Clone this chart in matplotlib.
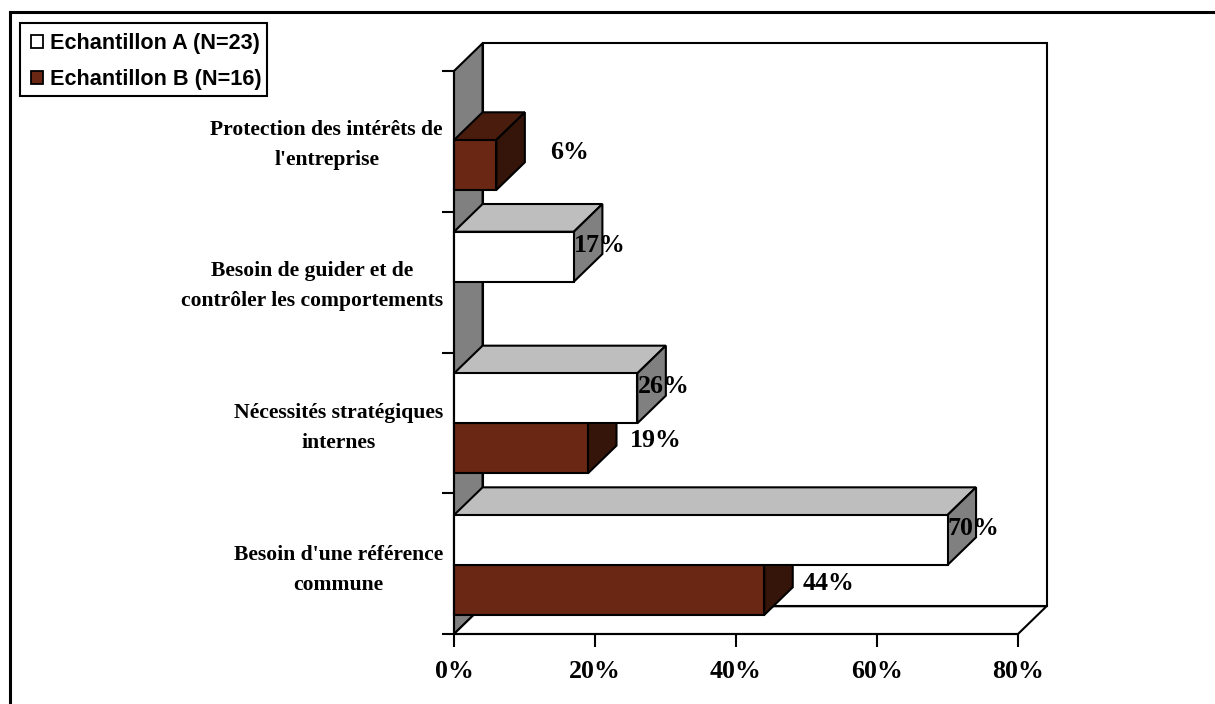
import matplotlib
matplotlib.use("Agg")
import matplotlib.pyplot as plt
from matplotlib.lines import Line2D
from matplotlib.patches import Polygon, Rectangle

categories = ["Besoin d'une référence\ncommune", "Nécessités stratégiques\ninternes",
              "Besoin de guider et de\ncontrôler les comportements", "Protection des intérêts de\nl'entreprise"]
echantillon_a = [70, 26, 17, 0]
echantillon_b = [44, 19, 0, 6]
series_names = ["Echantillon A (N=23)", "Echantillon B (N=16)"]
xticks = [0, 20, 40, 60, 80]

W, H = 1215, 704
DX, DY = 4.05, 0.197  # profondeur de l'effet 3D
BAR_H = 0.355
STEP = 1.0065  # les barres montent un peu plus vite que les graduations
SERIF = "Liberation Serif"
SANS = "Liberation Sans"

fig = plt.figure(figsize=(W / 100, H / 100), dpi=100)
# cadre exterieur : seulement gauche et haut
fig.add_artist(Line2D([9.5 / W, 9.5 / W], [0, 1 - 11.5 / H], transform=fig.transFigure, color="black", lw=2.2,
                      solid_capstyle="projecting"))
fig.add_artist(Line2D([9.5 / W, 1], [1 - 11.5 / H, 1 - 11.5 / H], transform=fig.transFigure, color="black", lw=2.2,
                      solid_capstyle="projecting"))

ax = fig.add_axes([454 / W, (H - 634) / H, 564 / W, 563 / H])
ax.set_xlim(0, 80)
ax.set_ylim(0, 4)


def poly(pts, color, z=2):
    ax.add_patch(Polygon(pts, closed=True, fc=color, ec="black", lw=1.5, clip_on=False, zorder=z, joinstyle="miter"))


def bar3d(y, val, front, top, side, z):
    poly([(0, y + BAR_H), (DX, y + BAR_H + DY), (val + DX, y + BAR_H + DY), (val, y + BAR_H)], top, z)
    poly([(val, y), (val + DX, y + DY), (val + DX, y + BAR_H + DY), (val, y + BAR_H)], side, z)
    poly([(0, y), (val, y), (val, y + BAR_H), (0, y + BAR_H)], front, z)


# parois
poly([(DX, DY), (80 + DX, DY), (80 + DX, 4 + DY), (DX, 4 + DY)], "white", 1)
poly([(0, 0), (DX, DY), (DX, 4 + DY), (0, 4)], "#808080", 1)
poly([(0, 0), (80, 0), (80 + DX, DY), (DX, DY)], "white", 1)

z = 3
for i in range(len(categories) - 1, -1, -1):
    if echantillon_b[i] > 0:
        bar3d(i * STEP + 0.135, echantillon_b[i], "#692714", "#4A1C0E", "#35150A", z)
        z += 1
    if echantillon_a[i] > 0:
        bar3d(i * STEP + 0.49, echantillon_a[i], "white", "#BEBEBE", "#808080", z)
        z += 1

# decalage des etiquettes B : en % sur x, en categories sur y
b_label_dx = [5.5, 6.0, 0, 7.7]
b_label_dy = [0.36, 0.365, 0, 0.40]
for i in range(len(categories)):
    if echantillon_a[i] > 0:
        ax.text(echantillon_a[i] + 0.05, i * STEP + 0.75, f"{echantillon_a[i]}%", family=SERIF, weight="bold",
                fontsize=18.6, va="center", ha="left", zorder=20)
    if echantillon_b[i] > 0:
        ax.text(echantillon_b[i] + b_label_dx[i], i * STEP + b_label_dy[i], f"{echantillon_b[i]}%",
                family=SERIF, weight="bold", fontsize=18.6, va="center", ha="left", zorder=20)

for s in ["top", "right"]:
    ax.spines[s].set_visible(False)
for s in ["left", "bottom"]:
    ax.spines[s].set_linewidth(1.5)
    ax.spines[s].set_zorder(30)
ax.set_xticks(xticks)
ax.set_xticklabels([f"{t}%" for t in xticks], family=SERIF, weight="bold", fontsize=18.6)
ax.set_yticks(range(5))
ax.set_yticklabels([])
ax.tick_params(axis="x", length=9, width=1.5, pad=10, direction="out")
ax.tick_params(axis="y", length=9, width=1.5, direction="out")

for i, cat in enumerate(categories):
    ax.annotate(cat, xy=(0, i * STEP + 0.457), xytext=(-11, 0), textcoords="offset pixels", family=SERIF, weight="bold",
                fontsize=15.6, ha="right", va="center", multialignment="center", linespacing=1.65)

# legende
fig.add_artist(Rectangle((19.5 / W, 1 - 95.5 / H), 247.5 / W, 73 / H, transform=fig.transFigure,
                         fc="white", ec="black", lw=1.5))
for k, (name, col) in enumerate(zip(series_names, ["white", "#692714"])):
    yc = 41 + k * 36.5
    fig.add_artist(Rectangle((30.5 / W, 1 - (yc + 6.5) / H), 12 / W, 13 / H, transform=fig.transFigure,
                             fc=col, ec="black", lw=1.3))
    fig.text(50 / W, 1 - (yc + 2.5) / H, name, family=SANS, weight="bold", fontsize=15.6, va="center", ha="left")

fig.savefig("out.png", dpi=100)
